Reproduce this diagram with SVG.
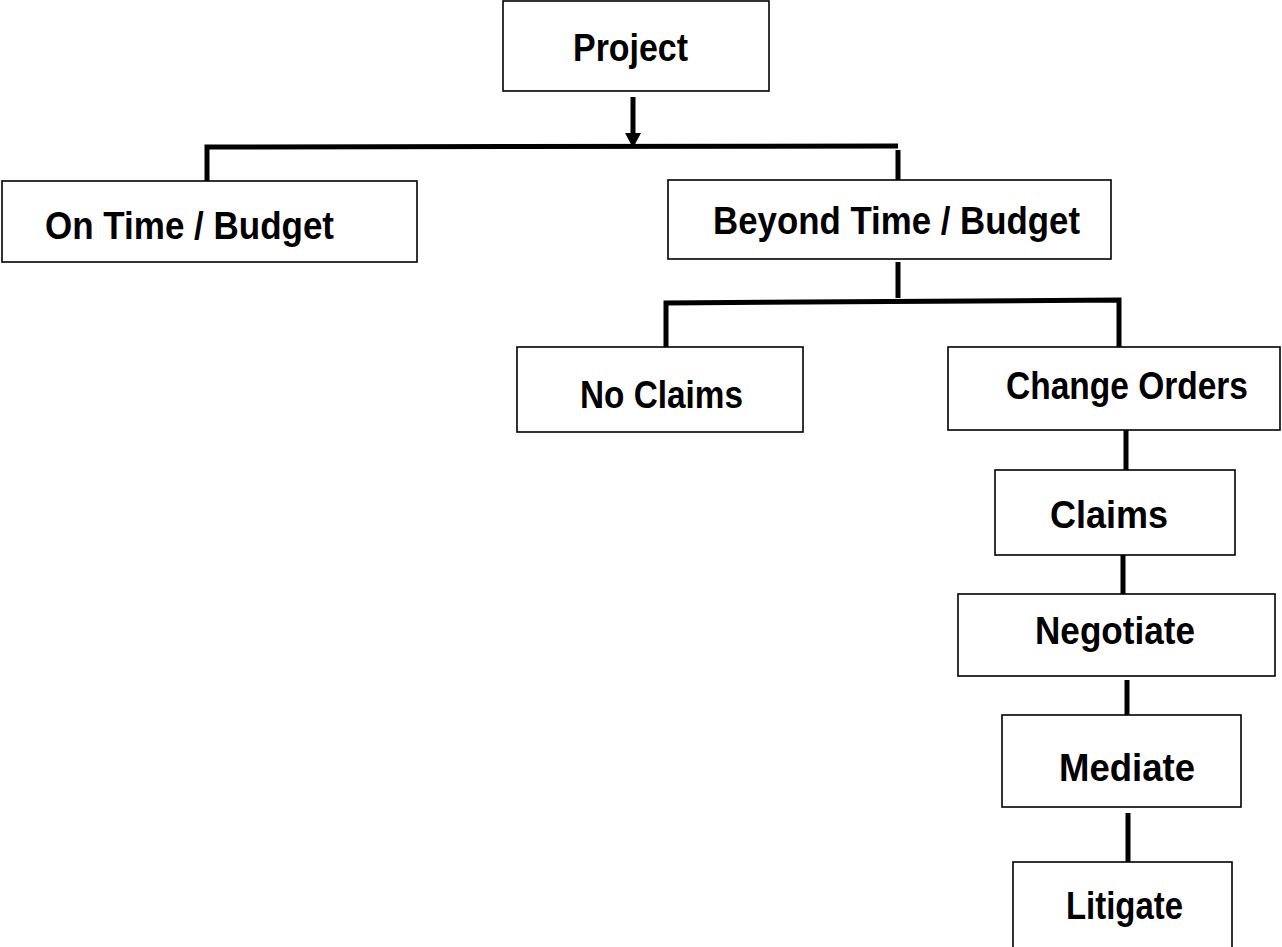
<svg xmlns="http://www.w3.org/2000/svg" width="1282" height="947" viewBox="0 0 1282 947">
<style>
.box{fill:#fff;stroke:#000;stroke-width:1.6}
.lbl{font-family:"Liberation Sans",Arial,sans-serif;font-weight:bold;font-size:38px;fill:#000}
.con{stroke:#000;stroke-width:5;fill:none}
</style>
<defs>
<marker id="arr" markerUnits="userSpaceOnUse" markerWidth="16" markerHeight="16" refX="0" refY="8" orient="auto">
<path d="M0,0 L15,8 L0,16 z" fill="#000"/>
</marker>
</defs>
<rect width="1282" height="947" fill="#fff"/>
<g id="connectors">
<line class="con" x1="633" y1="97" x2="633" y2="133" marker-end="url(#arr)"/>
<polyline class="con" points="207,181 207,147 898,146"/>
<line class="con" x1="898" y1="150" x2="898" y2="180"/>
<line class="con" x1="898" y1="262" x2="898" y2="298"/>
<polyline class="con" points="666,347 666,303 1119,300 1119,347"/>
<line class="con" x1="1126" y1="430" x2="1126" y2="470"/>
<line class="con" x1="1123" y1="555" x2="1123" y2="594"/>
<line class="con" x1="1127" y1="680" x2="1127" y2="716"/>
<line class="con" x1="1128" y1="813" x2="1128" y2="862"/>
</g>
<g id="project">
<rect class="box" x="503" y="1" width="266" height="90"/>
<text class="lbl" x="573" y="61" textLength="115" lengthAdjust="spacingAndGlyphs">Project</text>
</g>
<g id="ontime">
<rect class="box" x="2" y="181" width="415" height="81"/>
<text class="lbl" x="45" y="239" textLength="289" lengthAdjust="spacingAndGlyphs">On Time / Budget</text>
</g>
<g id="beyond">
<rect class="box" x="668" y="180" width="443" height="79"/>
<text class="lbl" x="713" y="234" textLength="367" lengthAdjust="spacingAndGlyphs">Beyond Time / Budget</text>
</g>
<g id="noclaims">
<rect class="box" x="517" y="347" width="286" height="85"/>
<text class="lbl" x="580" y="408" textLength="163" lengthAdjust="spacingAndGlyphs">No Claims</text>
</g>
<g id="changeorders">
<rect class="box" x="948" y="347" width="332" height="83"/>
<text class="lbl" x="1006" y="399" textLength="242" lengthAdjust="spacingAndGlyphs">Change Orders</text>
</g>
<g id="claims">
<rect class="box" x="995" y="470" width="240" height="85"/>
<text class="lbl" x="1050" y="528" textLength="118" lengthAdjust="spacingAndGlyphs">Claims</text>
</g>
<g id="negotiate">
<rect class="box" x="958" y="594" width="317" height="82"/>
<text class="lbl" x="1035" y="644" textLength="160" lengthAdjust="spacingAndGlyphs">Negotiate</text>
</g>
<g id="mediate">
<rect class="box" x="1002" y="715" width="239" height="92"/>
<text class="lbl" x="1059" y="781" textLength="136" lengthAdjust="spacingAndGlyphs">Mediate</text>
</g>
<g id="litigate">
<rect class="box" x="1013" y="862" width="219" height="95"/>
<text class="lbl" x="1066" y="919" textLength="117" lengthAdjust="spacingAndGlyphs">Litigate</text>
</g>
</svg>
